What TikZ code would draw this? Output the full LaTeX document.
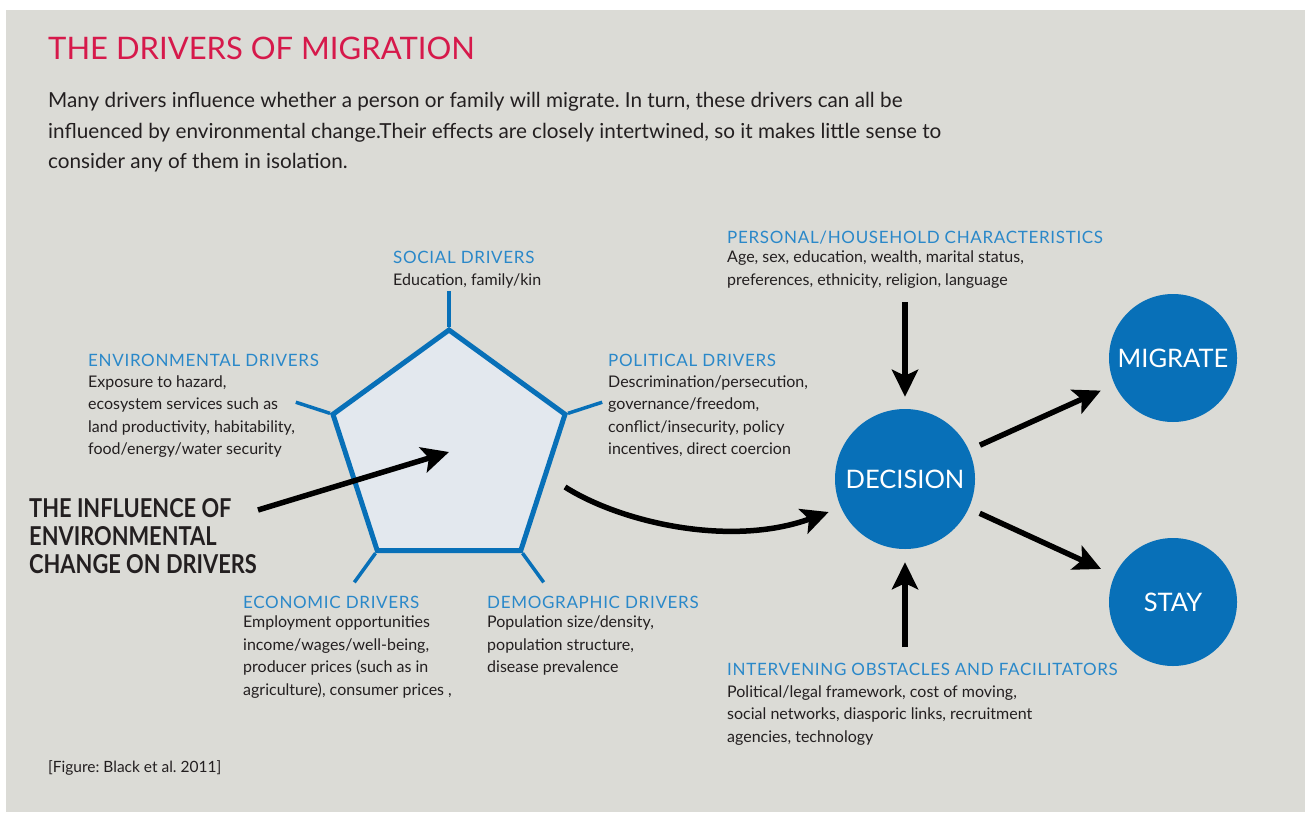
\documentclass[tikz,border=0pt]{standalone}
\usepackage{fontspec}
\setmainfont{Lato}
\frenchspacing
\usetikzlibrary{arrows.meta,positioning,shapes.geometric,calc}
\definecolor{panel}{HTML}{DBDBD6}
\definecolor{crimson}{HTML}{D6194B}
\definecolor{skyblue}{HTML}{2A88C9}
\definecolor{deepblue}{HTML}{0870B8}
\definecolor{paleblue}{HTML}{E3E8EE}
\definecolor{ink}{HTML}{231F20}

\begin{document}
\begin{tikzpicture}[x=1pt,y=-1pt,>={Stealth[length=27pt,width=26pt,inset=6pt]},
 head/.style={anchor=base west,inner sep=0,text=skyblue,font=\fontsize{17}{22}\selectfont\addfontfeature{LetterSpace=4}},
 % multi-line blurbs sit on the baseline of their last line
 blurb/.style={anchor=base west,inner sep=0,align=left,text=ink,font=\fontsize{16}{22.4}\selectfont},
 bubble/.style={circle,fill=deepblue,text=white,inner sep=0,font=\fontsize{25.5}{25}\selectfont},
 fat/.style={->,line width=5.5pt}]
% panel
\fill[white] (0,0) rectangle (1305,813);
\fill[panel] (6,10) rectangle (1305,812);
\node[anchor=base west,inner sep=0,text=crimson,font=\fontsize{31}{31}\selectfont] (title) at (48,60) {THE DRIVERS OF MIGRATION};
\node[blurb,font=\fontsize{20.7}{30}\selectfont] (intro) at (48,168) {Many drivers influence whether a person or family will migrate. In turn, these drivers can all be\\influenced by environmental change.Their effects are closely intertwined, so it makes little sense to\\consider any of them in isolation.};

% the five drivers
\node[regular polygon,regular polygon sides=5,minimum size=244pt,inner sep=0,draw=deepblue,fill=paleblue,line width=5pt] (drv) at (449,452) {};
\foreach \c in {1,...,5}
 \draw[deepblue,line width=3.5pt] (drv.corner \c) -- ($(drv.corner \c)!-36pt!(drv.center)$);

\node[head] (soc) at (393,263) {SOCIAL DRIVERS};
\node[blurb] (soct) at (393,285) {Education, family/kin};
\node[head] (env) at (88,366) {ENVIRONMENTAL DRIVERS};
\node[blurb] (envt) at (88,454.5) {Exposure to hazard,\\ecosystem services such as\\land productivity, habitability,\\food/energy/water security};
\node[head] (pol) at (608,366) {POLITICAL DRIVERS};
\node[blurb] (polt) at (608,454.5) {Descrimination/persecution,\\governance/freedom,\\conflict/insecurity, policy\\incentives, direct coercion};
\node[head] (eco) at (243,608) {ECONOMIC DRIVERS};
\node[blurb] (ecot) at (243,695) {Employment opportunities\\income/wages/well-being,\\producer prices (such as in\\agriculture), consumer prices ,};
\node[head] (dem) at (487,608) {DEMOGRAPHIC DRIVERS};
\node[blurb] (demt) at (487,672.6) {Population size/density,\\population structure,\\disease prevalence};

\node[blurb,font=\bfseries\fontsize{26}{28}\selectfont] (infl) at (29,573) {\scalebox{0.84}[1]{THE INFLUENCE OF}\\\scalebox{0.84}[1]{ENVIRONMENTAL}\\\scalebox{0.84}[1]{CHANGE ON DRIVERS}};

% decision side
\node[head] (pers) at (727,243) {PERSONAL/HOUSEHOLD CHARACTERISTICS};
\node[blurb] (perst) at (727,285) {Age, sex, education, wealth, marital status,\\preferences, ethnicity, religion, language};
\node[head] (obst) at (727,675) {INTERVENING OBSTACLES AND FACILITATORS};
\node[blurb] (obstt) at (727,742) {Political/legal framework, cost of moving,\\social networks, diasporic links, recruitment\\agencies, technology};

\node[bubble,minimum size=140pt] (decision) at (905,479) {DECISION};
\node[bubble,minimum size=128pt] (migrate) at (1173,358) {MIGRATE};
\node[bubble,minimum size=128pt] (stay) at (1173,602) {STAY};

\coordinate (push) at (258,510);
\coordinate (swoop) at (565,487);
\coordinate (hh) at (905,302);
\coordinate (fh) at (905,647);
\draw[fat] (push) -- (drv.center);
\draw[fat,shorten >=13pt] (swoop) .. controls (620,522) and (730,548) .. (decision.204);
\draw[fat,shorten >=12pt] (hh) -- (decision);
\draw[fat,shorten >=13pt] (fh) -- (decision);
\draw[fat,shorten <=12pt,shorten >=15pt] (decision) -- (migrate);
\draw[fat,shorten <=12pt,shorten >=15pt] (decision) -- (stay);

\node[blurb,font=\fontsize{15.5}{15}\selectfont] (cite) at (48,772) {[Figure: Black et al. 2011]};
\end{tikzpicture}
\end{document}
